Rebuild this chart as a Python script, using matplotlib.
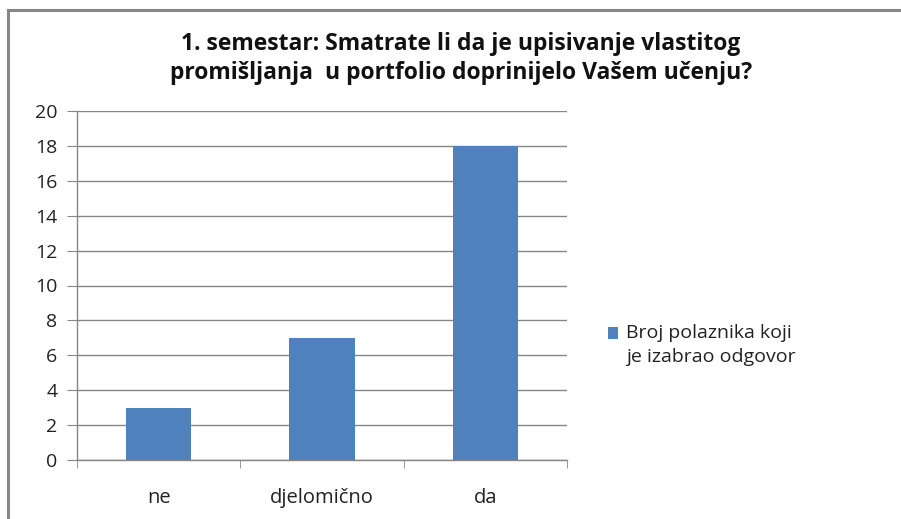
import matplotlib.pyplot as plt
from matplotlib.patches import Rectangle
from matplotlib.legend_handler import HandlerPatch

categories = ["ne", "djelomično", "da"]
values = [3, 7, 18]
series_name = "Broj polaznika koji\nje izabrao odgovor"
title = "1. semestar: Smatrate li da je upisivanje vlastitog\npromišljanja  u portfolio doprinijelo Vašem učenju?"

plt.rcParams["font.family"] = ["Open Sans", "DejaVu Sans"]

fig = plt.figure(figsize=(9.01, 5.19), dpi=100)

# chart border (cut off on right and bottom)
fig.patches.append(Rectangle((8 / 901, -0.1), 1.2, 1 - 10 / 519 + 0.1,
                             transform=fig.transFigure, fill=False,
                             edgecolor="#868686", linewidth=2.2))

ax = fig.add_axes([77 / 901, 1 - 460 / 519, 490 / 901, 349 / 519])

x = range(len(categories))
bars = ax.bar(x, values, width=0.4, color="#4F81BD", label=series_name, zorder=3)

ax.set_xlim(-0.5, len(categories) - 0.5)
ax.set_ylim(0, 20)
ax.set_yticks(range(0, 21, 2))
ax.set_xticks(list(x))
ax.set_xticklabels(categories)
ax.set_xticks([-0.5, 0.5, 1.5, 2.5], minor=True)

ax.yaxis.grid(True, color="#868686", linewidth=1, zorder=0)
for s in ["top", "right"]:
    ax.spines[s].set_visible(False)
for s in ["left", "bottom"]:
    ax.spines[s].set_color("#868686")
    ax.spines[s].set_linewidth(1)

ax.tick_params(axis="y", length=7, color="#868686", labelsize=14, pad=7,
               labelcolor="#222222")
ax.tick_params(axis="x", which="major", length=0, labelsize=14.5, pad=20,
               labelcolor="#222222")
ax.tick_params(axis="x", which="minor", length=6, color="#868686")

fig.text(461 / 901, 1 - 58.5 / 519, title, ha="center", va="center",
         fontsize=16.5, fontweight="bold", linespacing=1.28, color="#111111")


# put the legend square next to the first text line
def top_square(legend, orig_handle, xdescent, ydescent, width, height, fontsize):
    return Rectangle((-xdescent, -ydescent + 8.7), width, height)


def from_first_bar(legend_handle, orig_handle):
    legend_handle.update_from(orig_handle.patches[0])


leg = ax.legend(loc="upper left", bbox_to_anchor=(590 / 901, 1 - 306 / 519),
                bbox_transform=fig.transFigure, frameon=False, fontsize=14,
                handlelength=0.55, handleheight=0.55, handletextpad=0.4,
                labelcolor="#222222",
                handler_map={type(bars): HandlerPatch(patch_func=top_square,
                                                      update_func=from_first_bar)})
for t in leg.get_texts():
    t.set_linespacing(1.45)

plt.savefig("out.png", dpi=100)
